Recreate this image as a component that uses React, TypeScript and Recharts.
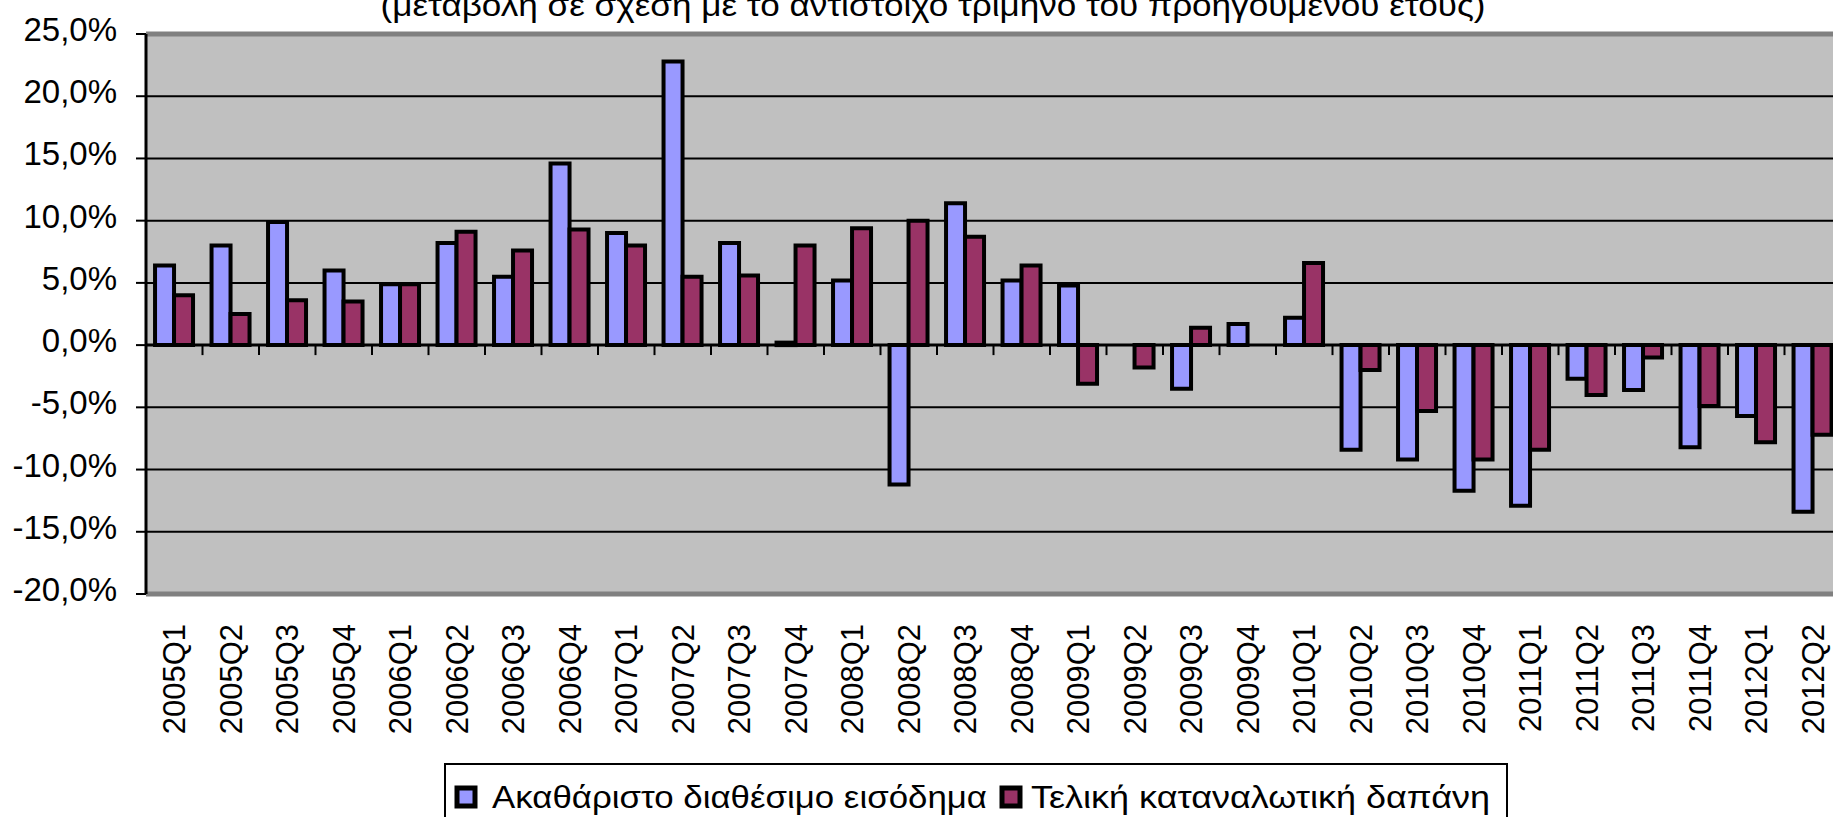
import React from 'react'
import { BarChart, Bar, XAxis, YAxis, CartesianGrid, ReferenceLine } from 'recharts'

const quarters = [
  '2005Q1', '2005Q2', '2005Q3', '2005Q4',
  '2006Q1', '2006Q2', '2006Q3', '2006Q4',
  '2007Q1', '2007Q2', '2007Q3', '2007Q4',
  '2008Q1', '2008Q2', '2008Q3', '2008Q4',
  '2009Q1', '2009Q2', '2009Q3', '2009Q4',
  '2010Q1', '2010Q2', '2010Q3', '2010Q4',
  '2011Q1', '2011Q2', '2011Q3', '2011Q4',
  '2012Q1', '2012Q2',
]

// Ακαθάριστο διαθέσιμο εισόδημα
const disposableIncome = [
  6.4, 8.0, 9.9, 6.0,
  4.9, 8.2, 5.5, 14.6,
  9.0, 22.8, 8.2, 0.2,
  5.2, -11.2, 11.4, 5.2,
  4.8, 0.0, -3.5, 1.7,
  2.2, -8.4, -9.2, -11.7,
  -12.9, -2.7, -3.6, -8.2,
  -5.7, -13.4,
]

// Τελική καταναλωτική δαπάνη
const consumption = [
  4.0, 2.5, 3.6, 3.5,
  4.9, 9.1, 7.6, 9.3,
  8.0, 5.5, 5.6, 8.0,
  9.4, 10.0, 8.7, 6.4,
  -3.1, -1.8, 1.4, 0.0,
  6.6, -2.0, -5.3, -9.2,
  -8.4, -4.0, -1.0, -4.9,
  -7.8, -7.2,
]

const yTicks = [-20, -15, -10, -5, 0, 5, 10, 15, 20, 25]

const TITLE = '(μεταβολή σε σχέση με το αντίστοιχο τρίμηνο του προηγούμενου έτους)'
const SERIES_1 = 'Ακαθάριστο διαθέσιμο εισόδημα'
const SERIES_2 = 'Τελική καταναλωτική δαπάνη'

const BLUE = '#9999FF'
const PLUM = '#993366'
const FONT = '"Liberation Sans", Arial, sans-serif'

const chartData = quarters.map((q, i) => ({
  q,
  income: disposableIncome[i],
  consumption: consumption[i],
}))

const fmtPct = (v: number) => `${v.toFixed(1).replace('.', ',')}%`

function YTick({ x, y, payload }: any) {
  return (
    <text x={x} y={y} dy={7} textAnchor="end" fontSize={33} fontFamily={FONT} fill="#000">
      {fmtPct(payload.value)}
    </text>
  )
}

function XTick({ x, y, payload }: any) {
  return (
    <text
      x={x}
      y={y}
      transform={`rotate(-90, ${x}, ${y})`}
      dy="0.36em"
      textAnchor="end"
      fontSize={31}
      fontFamily={FONT}
      fill="#000"
    >
      {payload.value}
    </text>
  )
}

// zero line with the category tick marks hanging below it
function ZeroAxis(props: any) {
  const { x1, x2, y1 } = props
  const step = (x2 - x1) / quarters.length
  return (
    <g>
      <line x1={x1} x2={x2} y1={y1} y2={y1} stroke="#000" strokeWidth={3} />
      {quarters.map((_, i) => (
        <line key={i} x1={x1 + (i + 1) * step} x2={x1 + (i + 1) * step} y1={y1} y2={y1 + 10} stroke="#000" strokeWidth={2} />
      ))}
    </g>
  )
}

export default function App() {
  return (
    <div style={{ position: 'absolute', left: 0, top: 0, width: 1833, height: 817, overflow: 'hidden', background: '#fff' }}>
      <BarChart
        width={1900}
        height={817}
        data={chartData}
        margin={{ top: 34, right: 59, left: 0, bottom: 0 }}
        barCategoryGap="16%"
        barGap={0}
      >
        <CartesianGrid vertical={false} stroke="#000" strokeWidth={2} fill="#C0C0C0" strokeOpacity={1} />
        <XAxis
          dataKey="q"
          height={223}
          interval={0}
          axisLine={false}
          tickLine={false}
          tickSize={6}
          tickMargin={24}
          tick={<XTick />}
        />
        <YAxis
          width={146}
          domain={[-20, 25]}
          ticks={yTicks}
          allowDataOverflow
          axisLine={{ stroke: '#000', strokeWidth: 3 }}
          tickLine={{ stroke: '#000', strokeWidth: 2 }}
          tickSize={10}
          tickMargin={19}
          tick={<YTick />}
        />
        <ReferenceLine y={25} stroke="#808080" strokeWidth={5} />
        <ReferenceLine y={-20} stroke="#808080" strokeWidth={5} />
        <Bar dataKey="income" fill={BLUE} stroke="#000" strokeWidth={4} isAnimationActive={false} />
        <Bar dataKey="consumption" fill={PLUM} stroke="#000" strokeWidth={4} isAnimationActive={false} />
        <ReferenceLine y={0} shape={<ZeroAxis />} />
      </BarChart>

      <svg width={1833} height={817} style={{ position: 'absolute', left: 0, top: 0, pointerEvents: 'none' }}>
        <text x={933} y={16} textAnchor="middle" fontSize={32} fontFamily={FONT} fill="#000" textLength={1105} lengthAdjust="spacingAndGlyphs">
          {TITLE}
        </text>
        <rect x={445} y={764} width={1062} height={80} fill="#fff" stroke="#000" strokeWidth={2} />
        <rect x={457} y={788} width={18} height={18} fill={BLUE} stroke="#000" strokeWidth={5} />
        <text x={492} y={808} fontSize={31} fontFamily={FONT} fill="#000" textLength={495} lengthAdjust="spacingAndGlyphs">
          {SERIES_1}
        </text>
        <rect x={1002} y={788} width={18} height={18} fill={PLUM} stroke="#000" strokeWidth={5} />
        <text x={1031} y={808} fontSize={31} fontFamily={FONT} fill="#000" textLength={459} lengthAdjust="spacingAndGlyphs">
          {SERIES_2}
        </text>
      </svg>
    </div>
  )
}
